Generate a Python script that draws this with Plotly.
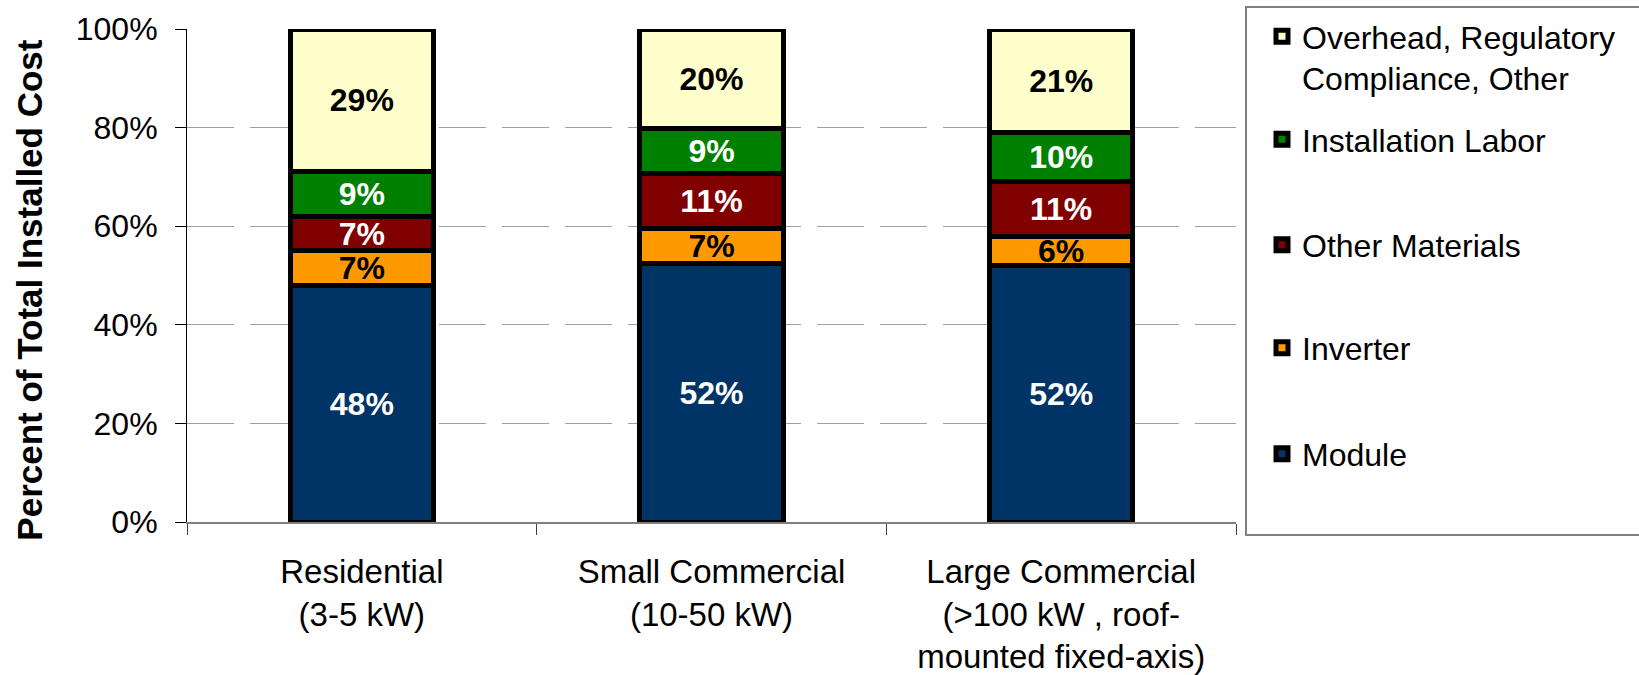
import plotly.graph_objects as go

# ---------------- data ----------------
categories = [
    "Residential<br>(3-5 kW)",
    "Small Commercial<br>(10-50 kW)",
    "Large Commercial<br>(>100 kW , roof-<br>mounted fixed-axis)",
]
series_names = [
    "Module",
    "Inverter",
    "Other Materials",
    "Installation Labor",
    "Overhead, Regulatory<br>Compliance, Other",
]
module = [48, 52, 52]
inverter = [7, 7, 6]
other_materials = [7, 11, 11]
installation_labor = [9, 9, 10]
overhead = [29, 20, 21]
series_values = [module, inverter, other_materials, installation_labor, overhead]

y_ticks = [0, 20, 40, 60, 80, 100]

# ---------------- style ----------------
FONT = "Arial, Liberation Sans, sans-serif"
colors = ["#003366", "#FF9900", "#800000", "#008000", "#FFFFCC"]
text_colors = ["white", "black", "white", "white", "black"]

W, H = 1639, 675
L, R, T, B = 187, 1236, 29, 522  # plot area in pixels

legend_ids = ["legend5", "legend4", "legend3", "legend2", "legend"]
legend_center_px = [454, 348, 245, 139.5, 9]
legend_left_px = 1262


def px_x(p):
    return (p - L) / (R - L)


def px_y(p):
    return (B - p) / (B - T)


fig = go.Figure()
for i, (name, vals) in enumerate(zip(series_names, series_values)):
    fig.add_trace(go.Bar(
        x=categories,
        y=vals,
        name=name,
        marker=dict(color=colors[i], line=dict(color="black", width=5)),
        text=[f"{v}%" for v in vals],
        textposition="inside",
        insidetextanchor="middle",
        textangle=0,
        constraintext="none",
        textfont=dict(family=FONT, size=32, color=text_colors[i], weight="bold"),
        legend=legend_ids[i],
        showlegend=True,
        hoverinfo="skip",
    ))

legends = {}
for i, lid in enumerate(legend_ids):
    is_top = (i == len(legend_ids) - 1)
    legends[lid] = dict(
        x=legend_left_px / W, xref="container", xanchor="left",
        y=1 - legend_center_px[i] / H, yref="container",
        yanchor="top" if is_top else "middle",
        valign="top",
        bgcolor="rgba(0,0,0,0)",
        borderwidth=0,
        font=dict(family=FONT, size=32, color="black"),
    )

# legend frame: top, left and bottom edges (right edge lies beyond the page)
bx0, bx1, by0, by1 = px_x(1246), px_x(1645), px_y(535), px_y(7)
frame_path = f"M{bx1},{by1} L{bx0},{by1} L{bx0},{by0} L{bx1},{by0}"

fig.update_layout(
    width=W, height=H,
    margin=dict(l=L, r=W - R, t=T, b=H - B, autoexpand=False),
    paper_bgcolor="white", plot_bgcolor="white",
    showlegend=True,
    barmode="stack", barnorm="percent", bargap=0.59,
    font=dict(family=FONT, size=32, color="black"),
    uniformtext=dict(minsize=32, mode="show"),
    **legends,
    xaxis=dict(
        showline=True, linecolor="#808080", linewidth=2,
        ticks="outside", tickson="boundaries", ticklen=11, tickwidth=1, tickcolor="#404040",
        tickfont=dict(family=FONT, size=33, color="black"),
        ticklabelstandoff=19,
        showgrid=False, zeroline=False, fixedrange=True,
    ),
    yaxis=dict(
        range=[0, 100], tickvals=y_ticks, ticktext=[f"{v}%" for v in y_ticks],
        showline=True, linecolor="black", linewidth=1,
        ticks="outside", ticklen=11, tickwidth=1, tickcolor="black",
        tickfont=dict(family=FONT, size=32, color="black"),
        ticklabelstandoff=11,
        showgrid=True, gridcolor="#A0A0A0", gridwidth=1, griddash="47px,16px",
        zeroline=False, fixedrange=True,
        title=dict(text="Percent of Total Installed Cost" + "\u00a0" * 3 + "\u200b", standoff=22,
                   font=dict(family=FONT, size=35, color="black", weight="bold")),
    ),
    shapes=[dict(
        type="path", xref="paper", yref="paper", path=frame_path,
        line=dict(color="#808080", width=2), layer="above",
    )],
)

fig.write_html(
    "out.html",
    config={"displayModeBar": False},
    post_script="document.body.style.margin='0';document.body.style.overflow='hidden';"
                "document.documentElement.style.overflow='hidden';",
)
